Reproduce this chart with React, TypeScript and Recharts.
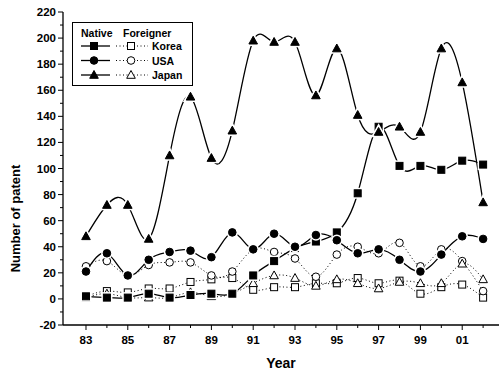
import React from "react"
import { LineChart, Line, XAxis, YAxis } from "recharts"

// years 1983..2002 kept as 83..102, shown as two digits
const years = [83, 84, 85, 86, 87, 88, 89, 90, 91, 92, 93, 94, 95, 96, 97, 98, 99, 100, 101, 102]
const nativeKorea = [2, 1, 1, 4, 1, 3, 4, 4, 18, 29, 39, 44, 51, 81, 132, 102, 102, 99, 106, 103]
const nativeUSA = [21, 35, 18, 30, 36, 37, 32, 51, 38, 50, 40, 49, 45, 35, 38, 30, 21, 34, 48, 46]
const nativeJapan = [48, 72, 72, 46, 110, 155, 108, 129, 198, 197, 197, 156, 192, 141, 128, 132, 128, 192, 166, 74]
const foreignKorea = [2, 6, 5, 8, 8, 13, 15, 16, 7, 9, 9, 12, 12, 16, 12, 14, 4, 9, 11, 1]
const foreignUSA = [25, 29, 18, 26, 28, 28, 18, 21, 38, 36, 31, 17, 34, 40, 35, 43, 25, 38, 29, 6]
const foreignJapan = [1, 4, 1, 1, 1, 5, 2, 4, 12, 18, 16, 10, 15, 12, 8, 13, 12, 12, 27, 15]

const yTicks = [-20, -10, 0, 10, 20, 30, 40, 50, 60, 70, 80, 90, 100, 110, 120, 130, 140, 150, 160, 170, 180, 190, 200, 210, 220]

const data = years.map((yr, i) => ({
  yr,
  nk: nativeKorea[i],
  nu: nativeUSA[i],
  nj: nativeJapan[i],
  fk: foreignKorea[i],
  fu: foreignUSA[i],
  fj: foreignJapan[i],
}))

const FONT = "'Liberation Sans', Arial, sans-serif"

type Shape = "square" | "circle" | "triangle"

function Marker({ cx, cy, shape, filled, halo }: { cx: number; cy: number; shape: Shape; filled: boolean; halo?: boolean }) {
  const fill = filled ? "#000" : "#fff"
  const common = { fill, stroke: "#000", strokeWidth: 1 }
  const hw = halo ? { fill: "#fff", stroke: "#fff", strokeWidth: 4 } : null
  const draw = (p: any) => {
    if (shape === "square") return <rect x={cx - 3.5} y={cy - 3.5} width={7} height={7} {...p} />
    if (shape === "circle") return <circle cx={cx} cy={cy} r={3.8} {...p} />
    return <polygon points={`${cx},${cy - 4.5} ${cx - 4.3},${cy + 3.3} ${cx + 4.3},${cy + 3.3}`} {...p} />
  }
  return (
    <g>
      {hw && draw(hw)}
      {draw(common)}
    </g>
  )
}

const dotFn = (shape: Shape, filled: boolean, halo: boolean) => (p: any) => (
  <Marker key={`${shape}-${filled}-${p.index}`} cx={p.cx} cy={p.cy} shape={shape} filled={filled} halo={halo} />
)

function YTick(props: any) {
  const { x, y, payload } = props
  const major = payload.value % 20 === 0
  return (
    <g>
      <line x1={x} y1={y} x2={x - (major ? 5 : 3)} y2={y} stroke="#000" strokeWidth={1} />
      {major && (
        <text x={x - 7} y={y} dy={4} textAnchor="end" fontSize={11.5} fontWeight="bold" fontFamily={FONT} fill="#000">
          {payload.value}
        </text>
      )}
    </g>
  )
}

function XTick(props: any) {
  const { x, y, payload } = props
  const major = payload.value % 2 === 1
  const label = String(payload.value % 100).padStart(2, "0")
  return (
    <g>
      <line x1={x} y1={y} x2={x} y2={y + (major ? 5 : 3)} stroke="#000" strokeWidth={1} />
      {major && (
        <text x={x} y={y + 19} textAnchor="middle" fontSize={11.5} fontWeight="bold" fontFamily={FONT} fill="#000">
          {label}
        </text>
      )}
    </g>
  )
}

function YLabel(props: any) {
  const vb = props.viewBox
  return (
    <text
      transform={`translate(${vb.x + 20}, ${vb.y + vb.height / 2 + 50}) rotate(-90)`}
      textAnchor="middle"
      fontSize={13}
      fontWeight="bold"
      fontFamily={FONT}
      fill="#000"
    >
      Number of patent
    </text>
  )
}

function XLabel(props: any) {
  const vb = props.viewBox
  return (
    <text x={vb.x + vb.width / 2} y={vb.y + 43} textAnchor="middle" fontSize={14} fontWeight="bold" fontFamily={FONT} fill="#000">
      Year
    </text>
  )
}

const legendRows: { shape: Shape; label: string }[] = [
  { shape: "square", label: "Korea" },
  { shape: "circle", label: "USA" },
  { shape: "triangle", label: "Japan" },
]

// legend drawn as an overlay so it does not take room from the plot
function LegendBox() {
  return (
    <svg width={121} height={64} style={{ display: "block" }}>
      <rect x={0.5} y={0.5} width={120} height={63} fill="#fff" stroke="#000" strokeWidth={1} />
      <text x={9} y={15} fontSize={10.5} fontWeight="bold" fontFamily={FONT}>Native</text>
      <text x={51} y={15} fontSize={10.5} fontWeight="bold" fontFamily={FONT}>Foreigner</text>
      {legendRows.map((r, i) => {
        const cy = 24 + i * 14.5
        return (
          <g key={r.label}>
            <line x1={9} x2={38} y1={cy} y2={cy} stroke="#000" strokeWidth={1.3} />
            <Marker cx={22} cy={cy} shape={r.shape} filled={true} />
            <line x1={44} x2={76} y1={cy} y2={cy} stroke="#000" strokeWidth={1} strokeDasharray="1 2.5" />
            <Marker cx={59} cy={cy} shape={r.shape} filled={false} />
            <text x={80} y={cy + 4} fontSize={10.5} fontWeight="bold" fontFamily={FONT}>{r.label}</text>
          </g>
        )
      })}
    </svg>
  )
}

export default function App() {
  return (
    <div style={{ position: "absolute", left: 0, top: 0, width: 501, height: 374, background: "#fff" }}>
      <LineChart width={501} height={374} data={data} margin={{ top: 12, right: 2, bottom: 0, left: 0 }}>
        <XAxis
          dataKey="yr"
          type="number"
          domain={[81.9, 102.76]}
          ticks={years}
          interval={0}
          tick={<XTick />}
          tickLine={false}
          tickSize={0}
          tickMargin={0}
          height={49}
          axisLine={{ stroke: "#000", strokeWidth: 1.3 }}
          allowDataOverflow
          label={<XLabel />}
        />
        <XAxis xAxisId="top" orientation="top" dataKey="yr" type="number" domain={[81.9, 102.76]} tick={false} tickLine={false} height={0} axisLine={{ stroke: "#000", strokeWidth: 1.3 }} />
        <YAxis
          type="number"
          domain={[-20, 220]}
          ticks={yTicks}
          tick={<YTick />}
          tickLine={false}
          tickSize={0}
          tickMargin={0}
          width={63}
          interval={0}
          axisLine={{ stroke: "#000", strokeWidth: 1.3 }}
          label={<YLabel />}
        />
        <YAxis yAxisId="right" orientation="right" domain={[-20, 220]} tick={false} tickLine={false} width={0} axisLine={{ stroke: "#000", strokeWidth: 1.3 }} />
        <Line type="natural" dataKey="fk" stroke="#000" strokeWidth={1} strokeDasharray="1 2.5" dot={dotFn("square", false, false)} isAnimationActive={false} />
        <Line type="natural" dataKey="fu" stroke="#000" strokeWidth={1} strokeDasharray="1 2.5" dot={dotFn("circle", false, false)} isAnimationActive={false} />
        <Line type="natural" dataKey="fj" stroke="#000" strokeWidth={1} strokeDasharray="1 2.5" dot={dotFn("triangle", false, false)} isAnimationActive={false} />
        <Line type="natural" dataKey="nk" stroke="#000" strokeWidth={1.3} dot={dotFn("square", true, true)} isAnimationActive={false} />
        <Line type="natural" dataKey="nu" stroke="#000" strokeWidth={1.3} dot={dotFn("circle", true, true)} isAnimationActive={false} />
        <Line type="natural" dataKey="nj" stroke="#000" strokeWidth={1.3} dot={dotFn("triangle", true, true)} isAnimationActive={false} />
      </LineChart>
      <div style={{ position: "absolute", left: 72, top: 22 }}>
        <LegendBox />
      </div>
    </div>
  )
}
